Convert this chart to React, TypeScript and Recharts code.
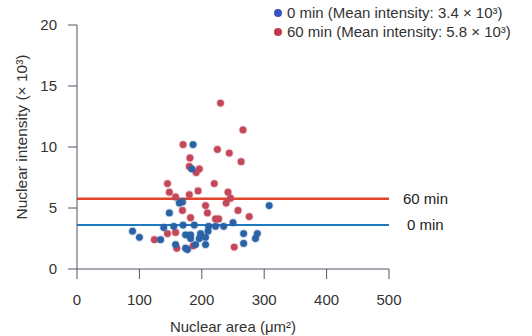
import { ReferenceLine, Scatter, ScatterChart, XAxis, YAxis } from "recharts"

const seriesNames = ["0 min", "60 min"]
const legendLabels = [
  "0 min (Mean intensity: 3.4 × 10³)",
  "60 min (Mean intensity: 5.8 × 10³)",
]

// nuclear area (µm²) and intensity (×10³), 0 min
const area0 = [186, 184, 164, 169, 148, 308, 89, 100, 134, 139, 170, 174, 182, 182, 196, 198, 206, 210, 211, 222, 235, 250, 267, 289, 286, 267, 158, 177, 174, 190, 206, 188, 155]
const intensity0 = [10.2, 8.2, 5.4, 5.5, 4.6, 5.2, 3.1, 2.6, 2.4, 3.4, 3.6, 2.8, 2.8, 2.5, 2.5, 2.9, 2.6, 3.1, 3.5, 3.5, 3.5, 3.8, 2.9, 2.9, 2.5, 2.1, 2.0, 1.6, 1.7, 2.0, 2.0, 3.6, 3.5]

// 60 min
const area60 = [230, 266, 170, 225, 244, 181, 263, 180, 196, 191, 145, 220, 148, 180, 194, 242, 158, 246, 239, 206, 169, 258, 182, 209, 222, 227, 276, 124, 145, 158, 252, 186, 160]
const intensity60 = [13.6, 11.4, 10.2, 9.8, 9.5, 9.1, 8.8, 8.4, 8.2, 7.9, 7.0, 7.0, 6.3, 6.1, 6.4, 6.3, 5.9, 5.8, 5.4, 5.2, 4.8, 4.8, 4.2, 4.6, 4.1, 4.1, 4.3, 2.4, 2.9, 3.0, 1.8, 1.9, 1.7]

const meanLines = [3.6, 5.75]
const xTicks = [0, 100, 200, 300, 400, 500]
const yTicks = [0, 5, 10, 15, 20]

const pointColors = ["#2a62a6", "#c4475a"]
const legendColors = ["#3b55c0", "#c0384a"]
const lineColors = ["#1f7bbf", "#e2452c"]

const toPoints = (xs: number[], ys: number[]) => xs.map((x, i) => ({ x, y: ys[i] }))
const data0 = toPoints(area0, intensity0)
const data60 = toPoints(area60, intensity60)

const font = "'Liberation Sans', Arial, sans-serif"
const axisColor = "#4d5862"

function Dot(props: any) {
  const { cx, cy, fill } = props
  return <circle cx={cx} cy={cy} r={3.4} fill={fill} stroke={fill} strokeOpacity={0.25} strokeWidth={2} />
}

function LegendBox() {
  return (
    <div style={{ position: "absolute", left: 274, top: 3, fontFamily: font, fontSize: 15, color: "#333", lineHeight: "19px" }}>
      {legendLabels.map((t, i) => (
        <div key={t} style={{ display: "flex", alignItems: "center", whiteSpace: "nowrap" }}>
          <span style={{ width: 8, height: 8, borderRadius: 4, background: legendColors[i], marginRight: 5 }} />
          {t}
        </div>
      ))}
    </div>
  )
}

export default function App() {
  return (
    <div style={{ position: "absolute", left: 0, top: 0, width: 532, height: 336, background: "#fff" }}>
      <ScatterChart width={532} height={336} margin={{ top: 25, right: 143, bottom: 15, left: 17 }}>
        <XAxis
          type="number"
          dataKey="x"
          domain={[0, 500]}
          ticks={xTicks}
          interval={0}
          stroke={axisColor}
          tickSize={10}
          tickMargin={15}
          height={52}
          tick={{ fill: "#333", fontSize: 15, fontFamily: font }}
          label={{ value: "Nuclear area (μm²)", position: "bottom", offset: 0, fill: "#333", fontSize: 15, fontFamily: font }}
        />
        <YAxis
          type="number"
          dataKey="y"
          domain={[0, 20]}
          ticks={yTicks}
          interval={0}
          stroke={axisColor}
          width={60}
          tickSize={9}
          tickMargin={11}
          tick={{ fill: "#333", fontSize: 15, fontFamily: font }}
          label={{
            content: () => (
              <text x={21} y={137} transform="rotate(-90 21 137)" textAnchor="middle" dominantBaseline="central" fill="#333" fontSize={15.5} fontFamily={font}>
                Nuclear intensity (× 10³)
              </text>
            ),
          }}
        />
        <ReferenceLine
          y={meanLines[1]}
          stroke={lineColors[1]}
          strokeWidth={2.5}
          label={{ value: seriesNames[1], position: "right", offset: 14, fill: "#222", fontSize: 15, fontFamily: font }}
        />
        <ReferenceLine
          y={meanLines[0]}
          stroke={lineColors[0]}
          strokeWidth={2}
          label={{ value: seriesNames[0], position: "right", offset: 18, fill: "#222", fontSize: 15, fontFamily: font }}
        />
        <Scatter name={seriesNames[1]} data={data60} fill={pointColors[1]} shape={<Dot />} isAnimationActive={false} />
        <Scatter name={seriesNames[0]} data={data0} fill={pointColors[0]} shape={<Dot />} isAnimationActive={false} />
      </ScatterChart>
      <LegendBox />
    </div>
  )
}
